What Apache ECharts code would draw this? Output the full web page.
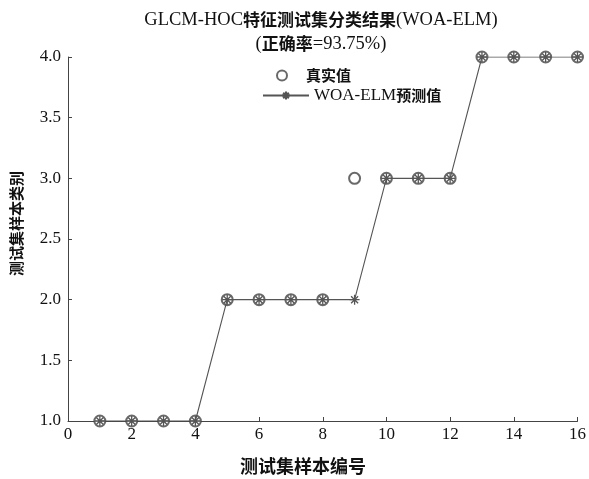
<!DOCTYPE html>
<html><head><meta charset="utf-8">
<script src="https://cdn.jsdelivr.net/npm/echarts@6/dist/echarts.min.js"></script>
<style>html,body{margin:0;padding:0;background:#fff}#c{width:589px;height:479px}</style>
</head><body><div id="c"></div>
<script>
var sampleIds = [1,2,3,4,5,6,7,8,9,10,11,12,13,14,15,16];
var trueValues = [1,1,1,1,2,2,2,2,3,3,3,3,4,4,4,4];
var predValues = [1,1,1,1,2,2,2,2,2,3,3,3,4,4,4,4];
var legendNames = ['真实值', 'WOA-ELM预测值'];
var xName = '测试集样本编号', yName = '测试集样本类别';

var serif = '"Liberation Serif","DejaVu Serif",serif';
var cjk = '"Noto Sans CJK SC",sans-serif';
var starPath = 'path://M0,-10L0,10M-10,0L10,0M-7,-7L7,7M-7,7L7,-7';
var latinStyle = {fontFamily: serif, fontSize: 18, color: '#111', fontWeight: 'normal'};
var cjkStyle = {fontFamily: cjk, fontSize: 17, color: '#111', fontWeight: 'bold'};

var chart = echarts.init(document.getElementById('c'));
chart.setOption({
  backgroundColor: '#fff',
  animation: false,
  title: {
    text: '{l|GLCM-HOC}{c|特征测试集分类结果}{l|(WOA-ELM)}\n{l|(}{c|正确率}{l|=93.75%)}',
    left: 316, textAlign: 'center', top: 3,
    textStyle: {lineHeight: 24, rich: {
      l: Object.assign({lineHeight: 24}, latinStyle, {fontSize: 18.5}),
      c: Object.assign({lineHeight: 24}, cjkStyle)
    }}
  },
  legend: [{
    orient: 'vertical', left: 271, top: 63, itemWidth: 38, itemHeight: 10,
    data: [legendNames[0]],
    formatter: function(n){return '{c|' + n + '}';},
    textStyle: {rich: {c: {fontFamily: cjk, fontSize: 15, fontWeight: 'bold', color: '#111'}}}
  }, {
    orient: 'vertical', left: 257, top: 82, itemWidth: 46, itemHeight: 10,
    data: [legendNames[1]],
    formatter: function(n){return '{l|WOA-ELM}{c|预测值}';},
    textStyle: {rich: {
      l: {fontFamily: serif, fontSize: 17, color: '#111'},
      c: {fontFamily: cjk, fontSize: 15, fontWeight: 'bold', color: '#111'}
    }}
  }],
  grid: {left: 68, right: 9, top: 57, bottom: 58, containLabel: false},
  xAxis: {
    type: 'value', min: 0, max: 16, interval: 2,
    axisLine: {lineStyle: {color: '#444', width: 1}},
    axisTick: {inside: true, length: 4, lineStyle: {color: '#444'}},
    axisLabel: {fontFamily: serif, fontSize: 17, color: '#111', margin: 5},
    splitLine: {show: false}
  },
  yAxis: {
    type: 'value', min: 1, max: 4, interval: 0.5,
    axisLine: {show: true, lineStyle: {color: '#444', width: 1}},
    axisTick: {show: true, inside: true, length: 4, lineStyle: {color: '#444'}},
    axisLabel: {fontFamily: serif, fontSize: 17, color: '#111', margin: 7,
      formatter: function(v){return v.toFixed(1);}},
    splitLine: {show: false}
  },
  graphic: [
    {type: 'text', left: 240, top: 457, style: {text: xName, font: 'bold 18px "Noto Sans CJK SC"', fill: '#111'}},
    {type: 'text', x: 9, y: 276, rotation: Math.PI / 2, style: {text: yName, font: 'bold 15px "Noto Sans CJK SC"', fill: '#111'}}
  ],
  series: [
    {
      name: legendNames[0], type: 'scatter', z: 3,
      symbol: 'emptyCircle', symbolSize: 11,
      itemStyle: {color: '#444', borderColor: '#444', borderWidth: 1.2},
      data: sampleIds.map(function(x,i){return [x, trueValues[i]];})
    },
    {
      name: legendNames[1], type: 'line', z: 4,
      symbol: starPath, symbolSize: 10, showSymbol: true,
      lineStyle: {color: '#555', width: 1.1},
      itemStyle: {color: '#555', borderColor: '#555', borderWidth: 1.3},
      data: sampleIds.map(function(x,i){return [x, predValues[i]];})
    }
  ]
});
</script></body></html>
